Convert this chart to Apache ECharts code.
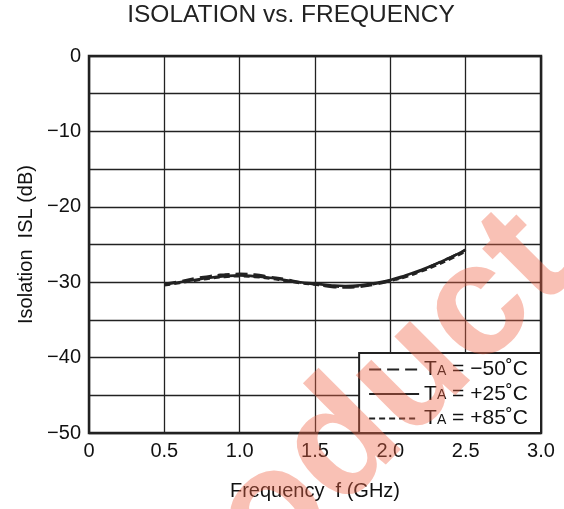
<!DOCTYPE html>
<html><head><meta charset="utf-8">
<script src="https://cdn.jsdelivr.net/npm/echarts@6/dist/echarts.min.js"></script>
<style>html,body{margin:0;padding:0;background:#fff}#c{width:564px;height:509px}</style>
</head><body><div id="c"></div>
<script>
const freq = [0.5,0.6,0.7,0.8,0.9,1.0,1.1,1.2,1.3,1.4,1.5,1.6,1.7,1.8,1.9,2.0,2.1,2.2,2.3,2.4,2.5];
const islM50 = [-30.2,-29.9,-29.5,-29.2,-29.0,-28.9,-29.0,-29.3,-29.6,-30.0,-30.3,-30.6,-30.7,-30.6,-30.3,-29.8,-29.2,-28.5,-27.6,-26.7,-25.7];
const islP25 = [-30.3,-30.0,-29.7,-29.4,-29.2,-29.1,-29.2,-29.4,-29.7,-30.0,-30.2,-30.4,-30.5,-30.4,-30.1,-29.7,-29.1,-28.4,-27.6,-26.7,-25.7];
const islP85 = [-30.4,-30.1,-29.8,-29.5,-29.3,-29.2,-29.3,-29.5,-29.8,-30.1,-30.3,-30.5,-30.6,-30.5,-30.2,-29.8,-29.3,-28.6,-27.8,-26.9,-25.9];
const seriesNames = ['TA = −50˚C','TA = +25˚C','TA = +85˚C'];
const legendLabels = {'TA = −50˚C':'{t|T}{s|A}{t| = −50˚C}','TA = +25˚C':'{t|T}{s|A}{t| = +25˚C}','TA = +85˚C':'{t|T}{s|A}{t| = +85˚C}'};

const FONT = '"Liberation Sans", Arial, sans-serif';
const pairs = arr => freq.map((f,i)=>[f,arr[i]]);
const chart = echarts.init(document.getElementById('c'), null, {renderer:'canvas'});
chart.setOption({
  animation:false,
  backgroundColor:'#fff',
  color:['#222','#222','#222'],
  title:{text:'ISOLATION vs. FREQUENCY', left:291, textAlign:'center', top:3, padding:0,
    textStyle:{fontFamily:FONT, fontSize:24.5, fontWeight:'normal', color:'#222'}},
  grid:{left:89, top:56, right:23, bottom:76, show:true, borderColor:'#222', borderWidth:2.5, backgroundColor:'transparent', containLabel:false},
  xAxis:{type:'value', min:0, max:3, interval:0.5,
    name:'Frequency  f (GHz)', nameLocation:'middle', nameGap:48,
    nameTextStyle:{fontFamily:FONT, fontSize:20, color:'#111'},
    axisLine:{show:false}, axisTick:{show:false},
    axisLabel:{fontFamily:FONT, fontSize:20, color:'#111', margin:8,
      formatter:v=> v===0 ? '0' : v.toFixed(1)},
    splitLine:{show:true, lineStyle:{color:'#222', width:1.3}}},
  yAxis:{type:'value', min:-50, max:0, interval:5,
    name:'Isolation  ISL (dB)', nameLocation:'middle', nameRotate:90, nameGap:48,
    nameTextStyle:{fontFamily:FONT, fontSize:20, color:'#111'},
    axisLine:{show:false}, axisTick:{show:false},
    axisLabel:{fontFamily:FONT, fontSize:20, color:'#111', margin:8,
      formatter:v=> (v%10===0) ? (v===0 ? '0' : '−'+(-v)) : ''},
    splitLine:{show:true, lineStyle:{color:'#222', width:1.3}}},
  legend:{orient:'vertical', right:23, bottom:76, itemWidth:50, itemHeight:14, itemGap:3.5,
    padding:[6,13,4,9], backgroundColor:'#fff', borderColor:'#222', borderWidth:2,
    data:seriesNames,
    itemStyle:{opacity:0},
    formatter:n=>legendLabels[n],
    textStyle:{fontFamily:FONT, fontSize:21, color:'#111',
      rich:{t:{fontFamily:FONT, fontSize:21, color:'#111', lineHeight:21},
            s:{fontFamily:FONT, fontSize:14, color:'#111', lineHeight:21, verticalAlign:'bottom', padding:[0,0,2,0]}}}},
  series:[
    {name:seriesNames[0], type:'line', data:pairs(islM50), smooth:true, symbol:'none', z:3,
      itemStyle:{color:'#222'}, lineStyle:{color:'#222', width:2.6, type:[12,6]}},
    {name:seriesNames[1], type:'line', data:pairs(islP25), smooth:true, symbol:'none', z:2,
      itemStyle:{color:'#222'}, lineStyle:{color:'#222', width:2.6, type:'solid'}},
    {name:seriesNames[2], type:'line', data:pairs(islP85), smooth:true, symbol:'none', z:4,
      itemStyle:{color:'#222'}, lineStyle:{color:'#222', width:2.6, type:[6,4]}}
  ],
  graphic:[{type:'text', x:176, y:725, rotation:0.785, z:100, silent:true,
    style:{text:'Product', fontFamily:FONT, fontSize:160, fontWeight:'bold', fill:'rgba(240,100,70,0.4)', textAlign:'left', textVerticalAlign:'bottom'}}]
});
</script></body></html>
